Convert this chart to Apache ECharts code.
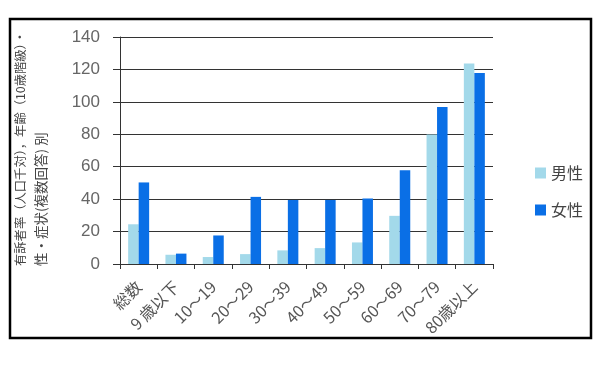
<!DOCTYPE html>
<html><head><meta charset="utf-8">
<script src="https://cdn.jsdelivr.net/npm/echarts@6/dist/echarts.min.js"></script>
<style>html,body{margin:0;padding:0;background:#fff;}#c{width:607px;height:366px;}</style>
</head><body><div id="c"></div>
<script>
const categories = ['総数','9 歳以下','10～19','20～29','30～39','40～49','50～59','60～69','70～79','80歳以上'];
const male = [24.5, 5.7, 4.3, 6.1, 8.4, 9.8, 13.3, 29.7, 79.9, 123.6];
const female = [50.3, 6.4, 17.6, 41.4, 39.5, 39.5, 40.4, 57.8, 96.9, 117.8];
const seriesNames = ['男性','女性'];
const yTitle1 = '有訴者率（人口千対），年齢（10歳階級）・';
const yTitle2 = '性・症状(複数回答) 別';

const chart = echarts.init(document.getElementById('c'));
const fontFam = '"Noto Sans CJK JP", "Noto Sans", sans-serif';
chart.setOption({
  animation: false,
  backgroundColor: '#fff',
  grid: {left: 120, right: 114, top: 37, bottom: 102, containLabel: false},
  legend: {
    orient: 'vertical', left: 530, top: 160, itemGap: 21,
    itemWidth: 11, itemHeight: 11, icon: 'rect',
    textStyle: {fontFamily: fontFam, fontSize: 16, color: '#444'},
    data: seriesNames
  },
  graphic: [
    {type: 'rect', shape: {x: 10, y: 19, width: 581, height: 319}, style: {fill: 'none', stroke: '#000', lineWidth: 2.5}, silent: true},
    {type: 'text', x: 20, y: 266, rotation: Math.PI/2, style: {text: yTitle1, fontFamily: fontFam, fontSize: 12.3, fill: '#444', textAlign: 'left', textVerticalAlign: 'middle'}},
    {type: 'text', x: 41, y: 266, rotation: Math.PI/2, style: {text: yTitle2, fontFamily: fontFam, fontSize: 13.5, fill: '#444', textAlign: 'left', textVerticalAlign: 'middle'}}
  ],
  xAxis: {
    type: 'category', data: categories,
    axisLine: {lineStyle: {color: '#333', width: 1}},
    axisTick: {show: true, length: 5, lineStyle: {color: '#333'}},
    axisLabel: {rotate: 45, fontFamily: fontFam, fontSize: 16, color: '#555', margin: 20, interval: 0}
  },
  yAxis: {
    type: 'value', min: 0, max: 140, interval: 20,
    axisLine: {show: true, lineStyle: {color: '#333', width: 1}},
    axisTick: {show: true, length: 7, lineStyle: {color: '#333'}},
    axisLabel: {fontFamily: '"Liberation Sans", sans-serif', fontSize: 17, color: '#666', margin: 20},
    splitLine: {lineStyle: {color: '#333', width: 1}}
  },
  series: [
    {name: seriesNames[0], type: 'bar', data: male, barWidth: 10.5, barGap: '0%', itemStyle: {color: '#a3d9ea'}},
    {name: seriesNames[1], type: 'bar', data: female, barWidth: 10.5, barGap: '0%', itemStyle: {color: '#0a6fe6'}}
  ]
});
</script></body></html>
